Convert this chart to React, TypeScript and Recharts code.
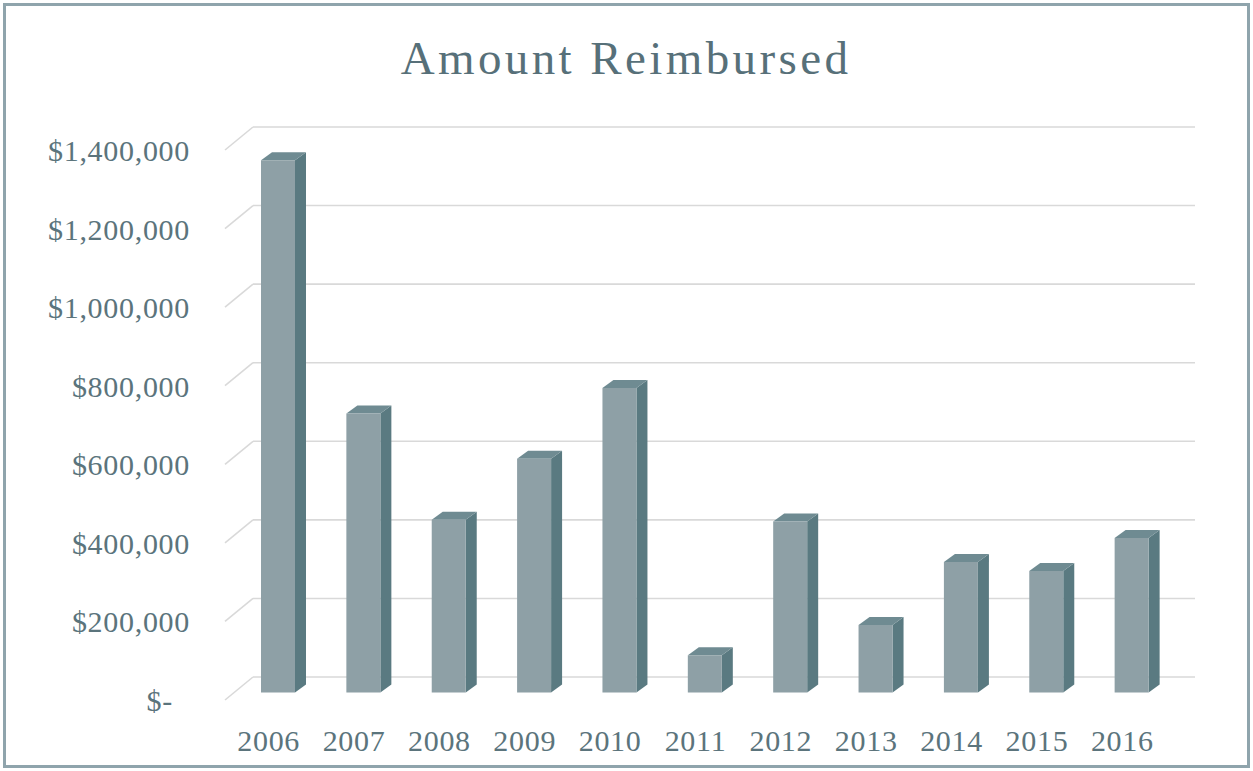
import React from 'react';
import { BarChart, Bar, XAxis, YAxis, CartesianGrid } from 'recharts';

const years = ['2006', '2007', '2008', '2009', '2010', '2011', '2012', '2013', '2014', '2015', '2016'];
const amounts = [1355000, 710000, 440000, 595000, 775000, 95000, 435000, 172000, 332000, 309000, 393000];
const yTicks = [0, 200000, 400000, 600000, 800000, 1000000, 1200000, 1400000];
const chartTitle = 'Amount Reimbursed';

const data = years.map((year, i) => ({ year, amount: amounts[i] }));

const W = 1253;
const H = 771;
const TEXT = '#5b747c';
const FONT = '"Liberation Serif", "Times New Roman", serif';

// 3D depth for bars
const BDX = 11;
const BDY = 8;

const Bar3D = (props: any) => {
  const { x, y, width, height } = props;
  if (height == null || height <= 0) return null;
  const front = `M${x},${y} L${x + width},${y} L${x + width},${y + height} L${x},${y + height} Z`;
  const side = `M${x + width},${y} L${x + width + BDX},${y - BDY} L${x + width + BDX},${y + height - BDY} L${x + width},${y + height} Z`;
  const top = `M${x},${y} L${x + BDX},${y - BDY} L${x + width + BDX},${y - BDY} L${x + width},${y} Z`;
  return (
    <g>
      <path d={side} fill="#5a7a81" />
      <path d={top} fill="#6f8b92" />
      <path d={front} fill="#8ea0a6" />
    </g>
  );
};

const GridLine3D = (props: any) => {
  const { x1, y1, x2 } = props;
  const fx = x1 - 10;
  const fy = y1 + 7.5;
  const bx = x1 + 18;
  const by = y1 - 15.5;
  return (
    <g key={props.key}>
      <line x1={fx} y1={fy} x2={bx} y2={by} stroke="#d9d9d9" strokeWidth={1.6} />
      <line x1={bx} y1={by} x2={x2 + 21} y2={by} stroke="#d9d9d9" strokeWidth={1.6} />
    </g>
  );
};

const YTick = (props: any) => {
  const { x, y, payload } = props;
  const v = payload.value as number;
  const label = v === 0 ? '$-' : '$' + v.toLocaleString('en-US');
  return (
    <text
      x={x - 45 - (v === 0 ? 17 : 0)}
      y={y + 8}
      textAnchor="end"
      dominantBaseline="central"
      fill={TEXT}
      fontFamily={FONT}
      fontSize={30}
      letterSpacing={0.7}
    >
      {label}
    </text>
  );
};

const XTick = (props: any) => {
  const { x, y, payload } = props;
  return (
    <text
      x={x - 9}
      y={y + 48}
      textAnchor="middle"
      dominantBaseline="central"
      fill={TEXT}
      fontFamily={FONT}
      fontSize={30}
      letterSpacing={0.7}
    >
      {payload.value}
    </text>
  );
};

export default function App() {
  return (
    <div style={{ position: 'absolute', left: 0, top: 0, width: W, height: H, background: '#ffffff', overflow: 'hidden' }}>
      <div
        style={{
          position: 'absolute',
          left: 3,
          top: 3,
          width: W - 6,
          height: H - 6,
          boxSizing: 'border-box',
          border: '3px solid #8fa4ac',
        }}
      />
      <div
        style={{
          position: 'absolute',
          left: 0,
          top: 28,
          width: 1252,
          textAlign: 'center',
          fontFamily: FONT,
          fontSize: 47,
          letterSpacing: 3.4,
          color: '#577079',
          lineHeight: '60px',
        }}
      >
        {chartTitle}
      </div>
      <div style={{ position: 'absolute', left: 0, top: 0 }}>
        <BarChart
          width={W}
          height={H}
          data={data}
          margin={{ top: 142.5, right: 79, bottom: 38.5, left: 0 }}
          barSize={34}
        >
          <CartesianGrid vertical={false} horizontal={GridLine3D as any} />
          <XAxis
            dataKey="year"
            axisLine={false}
            tickLine={false}
            tickSize={0}
            tickMargin={0}
            height={40}
            tick={<XTick />}
            interval={0}
          />
          <YAxis
            domain={[0, 1400000]}
            ticks={yTicks}
            axisLine={false}
            tickLine={false}
            tickSize={0}
            tickMargin={0}
            width={235}
            tick={<YTick />}
            interval={0}
          />
          <Bar dataKey="amount" shape={<Bar3D />} isAnimationActive={false} />
        </BarChart>
      </div>
    </div>
  );
}
